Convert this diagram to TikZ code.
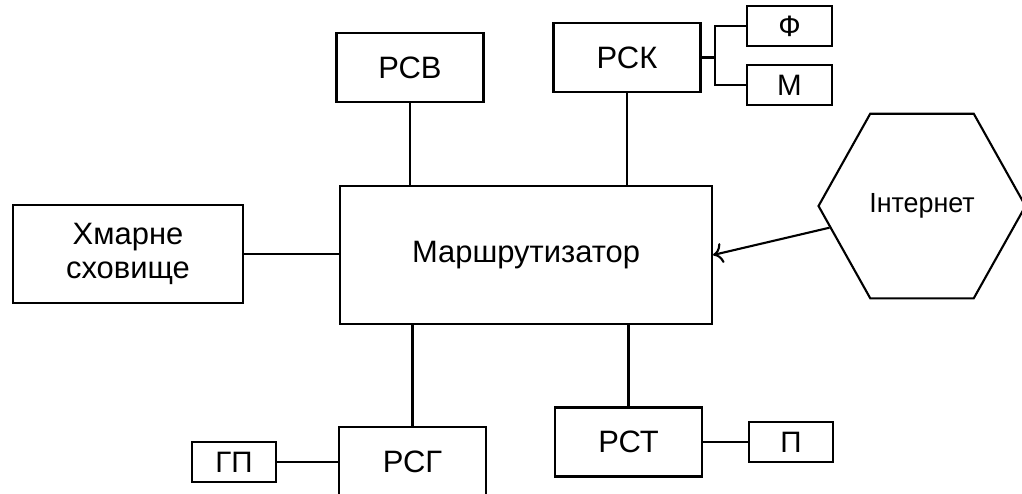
\documentclass[tikz,border=0pt]{standalone}
\usepackage{fontspec}
\setmainfont{Liberation Sans}
\usetikzlibrary{shapes.geometric,arrows.meta}

\tikzset{
	block/.style={draw, line width=1.2pt, inner sep=0pt, font=\fontsize{17.6}{19.5}\selectfont},
	small/.style={block, minimum width=1.69cm, minimum height=0.8cm, font=\fontsize{16.8}{19}\selectfont},
	link/.style={line width=1.2pt}
}

\begin{document}
\begin{tikzpicture}[x=0.02cm, y=-0.02cm]
			\useasboundingbox (0,0) rectangle (1022,494);
			\def\BoxW{2.94cm}
			\def\BoxH{1.38cm}
			% router in the middle
			\node[block, minimum width=7.44cm, minimum height=2.76cm] (router) at (526,255) {Маршрутизатор};
			\node[block, minimum width=4.6cm, minimum height=1.96cm, align=center] (cloud) at (128,254) {Хмарне\\сховище};
			% workstations
			\node[block, minimum width=\BoxW, minimum height=\BoxH] (rsv) at (410,67.5) {РСВ};
			\node[block, minimum width=\BoxW, minimum height=\BoxH] (rsk) at (627,57.5) {РСК};
			\node[block, minimum width=\BoxW, minimum height=\BoxH] (rsg) at (412.5,461.5) {РСГ};
			\node[block, minimum width=\BoxW, minimum height=\BoxH] (rst) at (628.5,442) {РСТ};
			% peripherals
			\node[small] (f) at (789.5,26) {Ф};
			\node[small] (m) at (789.5,85) {М};
			\node[small] (gp) at (234,462) {ГП};
			\node[small] (p) at (791,442) {П};
			\node[draw, line width=1.2pt, regular polygon, regular polygon sides=6, minimum size=4.14cm, yscale=1.03, inner sep=0pt, font=\fontsize{15.3}{18}\selectfont] (inet) at (922,206) {Інтернет};
			\coordinate (br) at (715,57.5);
				\draw[link] (rsv) -- (rsv |- router.north);
				\draw[link] (rsk) -- (rsk |- router.north);
				\draw[link] (cloud) -- (cloud -| router.west);
				\draw[link] (rsg) -- (rsg |- router.south);
				\draw[link] (rst) -- (rst |- router.south);
				\draw[link] (gp) -- (gp -| rsg.west);
				\draw[link] (p) -- (p -| rst.east);
				\draw[link] (rsk.east) -- (br) |- (f.west);
				\draw[link] (br) |- (m.west);
				\draw[link, -{To[scale=1.3]}] (inet) -- (router.east);
		\end{tikzpicture}
\end{document}
